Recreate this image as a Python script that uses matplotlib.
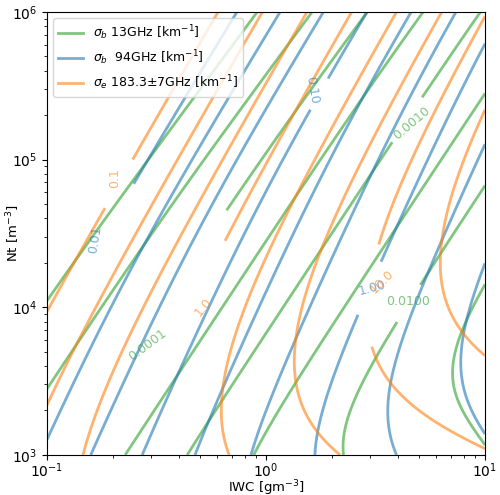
import numpy as np
import matplotlib
matplotlib.use("Agg")
import matplotlib.pyplot as plt
from matplotlib.lines import Line2D

# axis ranges
IWC_LIM = [0.1, 10.0]     # g m^-3
NT_LIM = [1e3, 1e6]       # m^-3

# band order: 13 GHz backscatter, 94 GHz backscatter, 183 GHz extinction
BAND_COLORS = ["tab:green", "tab:blue", "tab:orange"]
BAND_LABELS = [r"$\sigma_b$ 13GHz [km$^{-1}$]",
               r"$\sigma_b$  94GHz [km$^{-1}$]",
               r"$\sigma_e$ 183.3$\pm$7GHz [km$^{-1}$]"]

# scattering model, s = log10(IWC/Nt):
# log10 sigma = a*logIWC - b*logNt + c - sum A*log10(1 + 10^(B*(s - s0)))
SLOPE_A = [2.0, 1.7, 1.65]
SLOPE_B = [1.0, 0.7, 0.65]
OFFSET_C = [1.08, 2.4275, 3.264]
GENTLE = [(0.1, 2.0, -5.1), (0.205, 1.303, -4.9), (0.0, 1.0, -4.0)]
SHARP = [(0.48, 2.39, -2.855), (0.46, 1.737, -2.78), (1.5, 0.87, -3.5)]

# contour levels, log10(sigma / km^-1)
LEVELS_13 = [-5.0, -4.5, -4.0, -3.5, -3.0, -2.5, -2.0, -1.5]
LEVELS_94 = [-2.0, -5/3, -4/3, -1.0, -2/3, -1/3, 0.0, 1/3, 2/3]
LEVELS_183 = [-1.0, -2/3, -1/3, 0.0, 1/3, 2/3, 1.0, 4/3]

# labelled levels and their formats
LABEL_LEVELS = [[-4.0, -3.0, -2.0], [-2.0, -1.0, 0.0], [-1.0, 0.0, 1.0]]
LABEL_FMT = ["%.4f", "%.2f", "%.1f"]

# label styling: where the line is cut (IWC, Nt), extra cut length (px),
# and where the text sits with its rotation
CUT_POS = [[(0.289, 6.2e3), (4.64, 1.77e5), (4.45, 1.07e4)],
           [(0.149, 1.76e4), (1.62, 2.96e5), (3.02, 1.33e4)],
           [(0.198, 7.28e4), (0.35, 3.3e3), (3.61, 1.17e4)]]
CUT_SPACING = [[128, 5, 0], [86, 4, 15], [18, 140, 38]]
TEXT_POS = [[(0.289, 5.56e3), (4.64, 1.77e5), (4.45, 1.09e4)],
            [(0.1656, 2.86e4), (1.62, 2.96e5), (3.05, 1.35e4)],
            [(0.2045, 7.5e4), (0.515, 1.0e4), (3.39, 1.48e4)]]
TEXT_ROT = [[37, 40, 0], [80, -80, 15], [90, 50, 45]]

iwc = np.logspace(-1, 1, 500)
nt = np.logspace(3, 6, 500)
IW, NT = np.meshgrid(iwc, nt)
X, Y = np.log10(IW), np.log10(NT)
S = X - Y

fig = plt.figure(figsize=(5.0, 4.95), dpi=100)
ax = fig.add_axes([0.094, 0.081, 0.876, 0.895])
ax.set_xscale("log")
ax.set_yscale("log")
ax.set_xlim(IWC_LIM)
ax.set_ylim(NT_LIM)
ax.tick_params(axis="x", pad=1.5)

levels = [LEVELS_13, LEVELS_94, LEVELS_183]
ALPHA = 0.6
for k in range(3):
    logsig = SLOPE_A[k] * X - SLOPE_B[k] * Y + OFFSET_C[k]
    for (A, B, s0) in (GENTLE[k], SHARP[k]):
        logsig = logsig - A * np.log10(1 + 10 ** (B * (S - s0)))
    plain = [10 ** e for e in levels[k]
             if not np.any(np.isclose(e, LABEL_LEVELS[k]))]
    ax.contour(IW, NT, 10 ** logsig, levels=plain, colors=BAND_COLORS[k],
               alpha=ALPHA, linewidths=2)
    for j, e in enumerate(LABEL_LEVELS[k]):
        cs = ax.contour(IW, NT, 10 ** logsig, levels=[10 ** e],
                        colors=BAND_COLORS[k], alpha=ALPHA, linewidths=2)
        txt = ax.clabel(cs, fmt=LABEL_FMT[k], manual=[CUT_POS[k][j]],
                        fontsize=9, inline=True,
                        inline_spacing=CUT_SPACING[k][j])
        for t in txt:
            t.set_position(TEXT_POS[k][j])
            t.set_rotation(TEXT_ROT[k][j])

ax.set_xlabel(r"IWC [gm$^{-3}$]", fontsize=9.5)
ax.set_ylabel(r"Nt [m$^{-3}$]", fontsize=9.5)
ax.xaxis.set_label_coords(0.5, -0.052)
ax.yaxis.set_label_coords(-0.057, 0.5)

handles = [Line2D([], [], color=c, alpha=ALPHA, lw=2) for c in BAND_COLORS]
ax.legend(handles, BAND_LABELS, loc="upper left", fontsize=9)

fig.savefig("out.png")
